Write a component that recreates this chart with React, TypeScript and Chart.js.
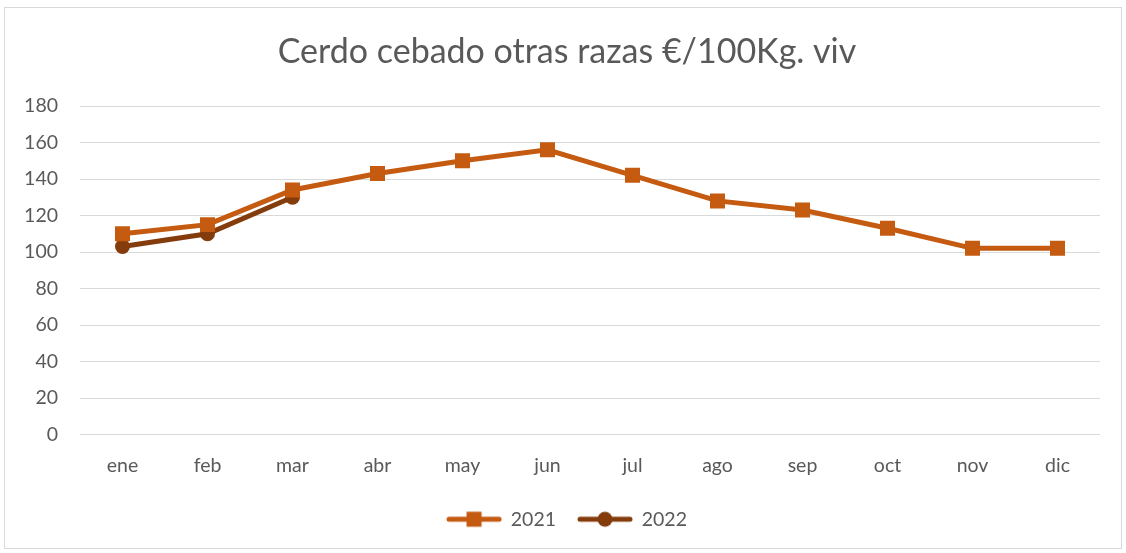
import React, { useEffect, useRef } from "react";
import { Chart, registerables } from "chart.js";

Chart.register(...registerables);

const TITLE = "Cerdo cebado otras razas €/100Kg. viv";
const CATEGORIES = ["ene", "feb", "mar", "abr", "may", "jun", "jul", "ago", "sep", "oct", "nov", "dic"];
const SERIES_2021 = [110, 115, 134, 143, 150, 156, 142, 128, 123, 113, 102, 102];
const SERIES_2022: (number | null)[] = [103, 110, 130, null, null, null, null, null, null, null, null, null];
const SERIES_LABELS = ["2021", "2022"];
const COLORS = ["#C55A11", "#843C0C"];
const Y_MIN = 0;
const Y_MAX = 180;
const Y_STEP = 20;

const FONT = "Lato, 'Open Sans', sans-serif";
const TEXT = "#595959";
const TICK_SIZE = 19.5;

function legendIcon(color: string, kind: "square" | "circle") {
  const c = document.createElement("canvas");
  c.width = 56;
  c.height = 18;
  const ctx = c.getContext("2d")!;
  ctx.strokeStyle = color;
  ctx.lineWidth = 5;
  ctx.lineCap = "round";
  ctx.beginPath();
  ctx.moveTo(3, 9);
  ctx.lineTo(53, 9);
  ctx.stroke();
  ctx.fillStyle = color;
  if (kind === "square") {
    ctx.fillRect(20.5, 1.5, 15, 15);
  } else {
    ctx.beginPath();
    ctx.arc(28, 9, 7.5, 0, Math.PI * 2);
    ctx.fill();
  }
  return c;
}

// Center title and legend on the whole framed box (as in the spreadsheet chart)
const centerBlocks = {
  id: "centerBlocks",
  afterLayout(chart: any) {
    const left = 34;
    const right = 1100;
    for (const box of [chart.titleBlock, chart.legend]) {
      if (!box) continue;
      box.left = left;
      box.right = right;
      box.width = right - left;
    }
  },
};

export default function App() {
  const ref = useRef<HTMLCanvasElement>(null);
  useEffect(() => {
    document.body.style.margin = "0";
    const icons = [legendIcon(COLORS[0], "square"), legendIcon(COLORS[1], "circle")];
    const chart = new Chart(ref.current!, {
      type: "line",
      data: {
        labels: CATEGORIES,
        datasets: [
          {
            label: SERIES_LABELS[0],
            data: SERIES_2021,
            borderColor: COLORS[0],
            backgroundColor: COLORS[0],
            borderWidth: 5,
            pointStyle: "rect",
            pointRadius: 10.6,
            pointBorderWidth: 0,
            tension: 0,
          },
          {
            label: SERIES_LABELS[1],
            data: SERIES_2022,
            borderColor: COLORS[1],
            backgroundColor: COLORS[1],
            borderWidth: 5,
            pointStyle: "circle",
            pointRadius: 7.5,
            pointBorderWidth: 0,
            tension: 0,
          },
        ],
      },
      options: {
        animation: false,
        responsive: false,
        layout: { padding: { top: 7, right: 26, bottom: 14, left: 0 } },
        plugins: {
          title: {
            display: true,
            text: TITLE,
            color: TEXT,
            font: { family: FONT, size: 34, weight: "normal" },
            padding: { top: 24.6, bottom: 33.6 },
          },
          legend: {
            position: "bottom",
            labels: {
              usePointStyle: true,
              pointStyleWidth: 54,
              color: TEXT,
              font: { family: FONT, size: TICK_SIZE },
              padding: 22,
              generateLabels: (ch: any) => {
                const items = Chart.defaults.plugins.legend.labels.generateLabels(ch);
                return items.map((it: any, i: number) => ({ ...it, pointStyle: icons[i] }));
              },
            },
          },
          tooltip: { enabled: false },
        },
        scales: {
          x: {
            offset: true,
            grid: { display: false, drawTicks: false },
            border: { display: false },
            ticks: { color: TEXT, font: { family: FONT, size: TICK_SIZE }, padding: 20 },
            afterFit: (s: any) => {
              s.height = 53;
            },
          },
          y: {
            min: Y_MIN,
            max: Y_MAX,
            grid: { color: "#D9D9D9", lineWidth: 1, drawTicks: false },
            border: { display: false },
            ticks: { stepSize: Y_STEP, color: TEXT, font: { family: FONT, size: TICK_SIZE }, padding: 22 },
            afterFit: (s: any) => {
              s.width = 80;
            },
          },
        },
      },
      plugins: [centerBlocks],
    });
    return () => chart.destroy();
  }, []);
  return (
    <div style={{ position: "fixed", left: 0, top: 0, width: 1126, height: 553, background: "#fff" }}>
      <div
        style={{
          position: "absolute",
          left: 4,
          top: 7,
          width: 1116,
          height: 540,
          border: "1px solid #D9D9D9",
        }}
      />
      <canvas ref={ref} width={1126} height={553} style={{ position: "absolute", left: 0, top: 0 }} />
    </div>
  );
}
